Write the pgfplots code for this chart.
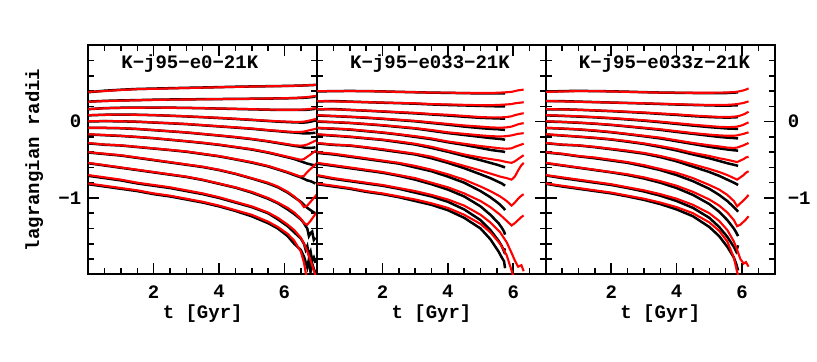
\documentclass[border=0pt]{standalone}
\usepackage{fontspec}
\setmainfont{Liberation Mono}
\usepackage{pgfplots}
\usepackage{pgfplotstable}
\pgfplotsset{compat=1.18}

% log10 of the lagrangian radii
% panel 1: K-j95-e0-21K
\pgfplotstableread{
t     L1    L2    L3    L4     L5     L6     L7     L8    L9    L10   L11   L12
0     0.39  0.26  0.165 0.085  0.005  -0.08  -0.165 -0.28 -0.40 -0.54 -0.70 -0.81
0.5   0.40  0.27  0.175 0.09   0.008  -0.08  -0.175 -0.30 -0.42 -0.57 -0.73 -0.84
1     0.415 0.275 0.18  0.092  0.005  -0.085 -0.185 -0.31 -0.44 -0.60 -0.76 -0.87
1.5   0.425 0.28  0.182 0.09   0.0    -0.095 -0.20  -0.33 -0.47 -0.63 -0.80 -0.90
2     0.43  0.285 0.183 0.085  -0.01  -0.11  -0.215 -0.35 -0.50 -0.66 -0.83 -0.94
2.5   0.435 0.288 0.182 0.078  -0.02  -0.125 -0.235 -0.37 -0.53 -0.69 -0.86 -0.97
3     0.44  0.29  0.18  0.07   -0.03  -0.14  -0.255 -0.39 -0.56 -0.72 -0.90 -1.01
3.5   0.445 0.292 0.176 0.06   -0.045 -0.16  -0.275 -0.42 -0.59 -0.76 -0.94 -1.05
4     0.45  0.295 0.172 0.05   -0.06  -0.18  -0.30  -0.45 -0.63 -0.81 -0.99 -1.10
4.5   0.455 0.297 0.168 0.038  -0.075 -0.20  -0.33  -0.49 -0.68 -0.86 -1.05 -1.16
5     0.46  0.30  0.163 0.025  -0.09  -0.225 -0.36  -0.53 -0.74 -0.92 -1.11 -1.22
5.5   0.463 0.303 0.158 0.012  -0.11  -0.255 -0.40  -0.58 -0.80 -1.00 -1.19 -1.31
5.8   0.465 0.305 0.156 0.005  -0.12  -0.275 -0.43  -0.62 -0.85 -1.06 -1.26 -1.38
6.1   0.467 0.307 0.155 0.0    -0.13  -0.295 -0.46  -0.66 -0.92 -1.13 -1.35 -1.47
6.3   0.47  0.31  0.155 -0.003 -0.135 -0.31  -0.48  -0.69 -0.98 -1.19 -1.42 -1.56
6.5   0.472 0.315 0.157 -0.003 -0.135 -0.315 -0.50  -0.72 -1.06 -1.27 -1.52 -1.70
6.6   0.474 0.318 0.16  0.0    -0.13  -0.31  -0.49  -0.71 -1.12 -1.33 -1.60 -1.85
6.7   0.476 0.322 0.163 0.008  -0.12  -0.30  -0.46  -0.66 -1.10 -1.35 -1.70 -2.10
6.8   0.478 0.327 0.168 0.018  -0.11  -0.28  -0.43  -0.62 -1.05 -1.30 -1.82 nan
6.9   0.48  0.333 0.175 0.028  -0.10  -0.26  -0.40  -0.58 -1.00 -1.24 -1.95 nan
7.0   0.485 0.34  0.182 0.04   -0.09  -0.24  -0.37  -0.54 -0.95 -1.18 -2.08 nan
}\pOneR
\pgfplotstableread{
t     L1    L2    L3    L4     L5     L6     L7     L8     L9     L10    L11   L12
0     0.385 0.262 0.163 0.082  0.003  -0.083 -0.168 -0.285 -0.405 -0.545 -0.71 -0.82
0.5   0.405 0.272 0.177 0.09   0.006  -0.083 -0.178 -0.303 -0.425 -0.575 -0.74 -0.85
1     0.418 0.278 0.182 0.093  0.004  -0.087 -0.188 -0.313 -0.445 -0.605 -0.77 -0.88
1.5   0.428 0.282 0.184 0.09   -0.002 -0.097 -0.202 -0.333 -0.475 -0.635 -0.81 -0.91
2     0.433 0.287 0.185 0.085  -0.012 -0.112 -0.218 -0.353 -0.505 -0.665 -0.84 -0.95
2.5   0.438 0.29  0.183 0.077  -0.022 -0.127 -0.238 -0.373 -0.535 -0.695 -0.87 -0.98
3     0.443 0.292 0.18  0.068  -0.033 -0.143 -0.258 -0.395 -0.565 -0.725 -0.91 -1.02
3.5   0.447 0.294 0.176 0.058  -0.048 -0.163 -0.28  -0.425 -0.595 -0.765 -0.95 -1.06
4     0.452 0.296 0.171 0.047  -0.063 -0.183 -0.305 -0.455 -0.635 -0.815 -1.00 -1.11
4.5   0.457 0.298 0.166 0.035  -0.078 -0.205 -0.335 -0.495 -0.685 -0.865 -1.06 -1.17
5     0.461 0.30  0.161 0.022  -0.094 -0.23  -0.366 -0.537 -0.745 -0.93  -1.12 -1.24
5.5   0.464 0.302 0.156 0.008  -0.114 -0.26  -0.407 -0.587 -0.81  -1.01  -1.20 -1.33
5.8   0.466 0.304 0.154 0.0    -0.125 -0.282 -0.437 -0.627 -0.86  -1.07  -1.28 -1.40
6.1   0.468 0.306 0.153 -0.006 -0.137 -0.303 -0.468 -0.668 -0.93  -1.15  -1.37 -1.50
6.3   0.47  0.308 0.153 -0.01  -0.143 -0.318 -0.49  -0.70  -0.99  -1.21  -1.45 -1.60
6.5   0.472 0.311 0.153 -0.012 -0.15  -0.33  -0.52  -0.73  -1.05  -1.28  -1.53 -1.68
6.6   0.474 0.313 0.154 -0.012 -0.155 -0.34  -0.535 -0.75  -1.09  -1.33  -1.60 -1.77
6.65  nan   nan   nan   nan    nan    nan    nan    nan    nan    -1.37  -1.68 -1.84
6.7   0.476 0.316 0.156 -0.008 -0.155 -0.345 -0.55  -0.77  -1.13  -1.40  -1.63 -1.91
6.75  nan   nan   nan   nan    nan    nan    nan    nan    nan    -1.50  -1.75 -1.80
6.8   0.478 0.32  0.16  0.0    -0.152 -0.345 -0.56  -0.78  -1.16  -1.46  -1.70 -1.97
6.85  nan   nan   nan   nan    nan    nan    nan    nan    nan    -1.44  -1.82 -1.86
6.9   0.48  0.325 0.165 0.01   -0.148 -0.34  -0.57  -0.80  -1.19  -1.55  -1.78 -1.93
6.95  0.482 0.33  0.17  0.02   -0.145 -0.335 -0.575 -0.81  -1.20  -1.52  -1.85 -1.98
}\pOneB

% panel 2: K-j95-e033-21K
\pgfplotstableread{
t     L1    L2    L3    L4     L5     L6     L7     L8    L9    L10   L11   L12
0     0.40  0.27  0.165 0.085  0.005  -0.08  -0.165 -0.28 -0.40 -0.54 -0.70 -0.81
0.5   0.40  0.265 0.16  0.075  -0.005 -0.09  -0.18  -0.30 -0.42 -0.57 -0.74 -0.84
1     0.40  0.26  0.155 0.065  -0.015 -0.10  -0.195 -0.31 -0.45 -0.60 -0.77 -0.87
1.5   0.40  0.255 0.145 0.055  -0.03  -0.12  -0.215 -0.335 -0.48 -0.63 -0.80 -0.91
2     0.395 0.25  0.135 0.04   -0.045 -0.14  -0.235 -0.36 -0.51 -0.66 -0.83 -0.94
2.5   0.39  0.245 0.125 0.025  -0.065 -0.165 -0.26  -0.39 -0.54 -0.70 -0.87 -0.98
3     0.385 0.24  0.115 0.01   -0.085 -0.19  -0.29  -0.42 -0.58 -0.74 -0.91 -1.02
3.5   0.38  0.23  0.10  -0.01  -0.11  -0.22  -0.33  -0.46 -0.63 -0.80 -0.96 -1.07
4     0.38  0.225 0.09  -0.03  -0.14  -0.26  -0.38  -0.52 -0.69 -0.86 -1.02 -1.13
4.5   0.375 0.22  0.075 -0.05  -0.16  -0.29  -0.43  -0.58 -0.76 -0.94 -1.10 -1.22
5     0.375 0.215 0.06  -0.065 -0.18  -0.32  -0.47  -0.64 -0.85 -1.04 -1.22 -1.34
5.3   0.375 0.215 0.055 -0.075 -0.19  -0.335 -0.49  -0.68 -0.91 -1.12 -1.32 -1.45
5.6   0.38  0.22  0.055 -0.08  -0.195 -0.35  -0.51  -0.72 -0.98 -1.22 -1.45 -1.60
5.8   0.385 0.225 0.06  -0.075 -0.19  -0.355 -0.53  -0.74 -1.04 -1.30 -1.58 -1.75
5.95  0.39  0.23  0.07  -0.065 -0.18  -0.35  -0.54  -0.76 -1.10 -1.36 -1.72 -1.95
6.05  0.40  0.24  0.085 -0.05  -0.17  -0.33  -0.52  -0.72 -1.06 -1.33 -1.82 -2.10
6.15  0.41  0.245 0.095 -0.035 -0.16  -0.315 -0.49  -0.64 -1.01 -1.29 -1.90 nan
6.25  0.415 0.25  0.105 -0.025 -0.155 -0.30  -0.46  -0.57 -0.97 -1.25 -1.88 nan
6.32  0.42  0.255 0.11  -0.02  -0.15  -0.29  -0.44  -0.54 -0.95 -1.23 -1.96 nan
}\pTwoR
\pgfplotstableread{
t     L1    L2    L3    L4     L5     L6     L7     L8     L9    L10   L11   L12
0     0.395 0.265 0.16  0.08   0.0    -0.085 -0.17  -0.285 -0.41 -0.55 -0.71 -0.82
0.5   0.40  0.27  0.165 0.072  -0.008 -0.093 -0.185 -0.305 -0.43 -0.58 -0.75 -0.85
1     0.402 0.262 0.153 0.062  -0.018 -0.105 -0.20  -0.315 -0.46 -0.61 -0.78 -0.88
1.5   0.40  0.255 0.143 0.05   -0.033 -0.125 -0.22  -0.34  -0.49 -0.64 -0.81 -0.92
2     0.396 0.248 0.132 0.036  -0.05  -0.145 -0.24  -0.37  -0.52 -0.67 -0.84 -0.95
2.5   0.39  0.242 0.12  0.02   -0.07  -0.17  -0.27  -0.40  -0.55 -0.71 -0.88 -0.99
3     0.385 0.235 0.108 0.004  -0.09  -0.20  -0.30  -0.43  -0.60 -0.76 -0.93 -1.04
3.5   0.38  0.225 0.094 -0.018 -0.12  -0.23  -0.345 -0.48  -0.65 -0.82 -0.98 -1.09
4     0.377 0.218 0.08  -0.04  -0.15  -0.27  -0.395 -0.54  -0.72 -0.89 -1.05 -1.16
4.5   0.373 0.212 0.064 -0.065 -0.175 -0.305 -0.45  -0.61  -0.80 -0.98 -1.15 -1.26
5     0.37  0.206 0.05  -0.085 -0.20  -0.345 -0.505 -0.69  -0.91 -1.11 -1.29 -1.40
5.3   0.37  0.203 0.045 -0.095 -0.215 -0.37  -0.54  -0.74  -0.99 -1.22 -1.42 -1.54
5.55  0.37  0.20  0.042 -0.10  -0.225 -0.385 -0.57  -0.79  -1.07 -1.33 -1.56 -1.70
5.65  0.37  0.20  0.04  -0.105 -0.23  -0.39  -0.585 -0.81  -1.11 -1.39 -1.63 -1.78
5.72  0.37  0.20  0.04  -0.107 -0.235 -0.395 -0.595 -0.83  -1.14 -1.44 -1.70 -1.83
5.75  0.372 0.20  0.04  -0.11  -0.24  -0.40  -0.60  -0.84  -1.16 -1.48 -1.66 -1.92
}\pTwoB

% panel 3: K-j95-e033z-21K
\pgfplotstableread{
t     L1    L2    L3    L4     L5     L6     L7     L8    L9    L10   L11   L12
0     0.39  0.27  0.165 0.085  0.005  -0.08  -0.165 -0.28 -0.40 -0.54 -0.70 -0.81
0.5   0.395 0.265 0.16  0.078  -0.003 -0.09  -0.18  -0.30 -0.42 -0.57 -0.73 -0.84
1     0.40  0.26  0.155 0.07   -0.012 -0.10  -0.195 -0.31 -0.45 -0.60 -0.76 -0.87
1.5   0.40  0.255 0.148 0.06   -0.025 -0.115 -0.21  -0.33 -0.47 -0.63 -0.79 -0.90
2     0.395 0.25  0.14  0.048  -0.04  -0.135 -0.23  -0.355 -0.50 -0.66 -0.82 -0.93
2.5   0.39  0.245 0.13  0.033  -0.06  -0.16  -0.255 -0.38 -0.53 -0.69 -0.86 -0.97
3     0.385 0.24  0.12  0.018  -0.08  -0.185 -0.285 -0.41 -0.57 -0.73 -0.90 -1.01
3.5   0.38  0.235 0.107 0.0    -0.10  -0.21  -0.32  -0.45 -0.62 -0.78 -0.95 -1.06
4     0.38  0.228 0.095 -0.02  -0.125 -0.245 -0.36  -0.50 -0.67 -0.84 -1.01 -1.12
4.5   0.378 0.222 0.08  -0.04  -0.15  -0.28  -0.41  -0.56 -0.74 -0.92 -1.09 -1.20
5     0.378 0.218 0.068 -0.058 -0.17  -0.31  -0.45  -0.62 -0.83 -1.02 -1.20 -1.32
5.3   0.38  0.218 0.062 -0.068 -0.18  -0.325 -0.48  -0.66 -0.89 -1.10 -1.30 -1.43
5.55  0.382 0.22  0.06  -0.072 -0.185 -0.34  -0.50  -0.70 -0.96 -1.19 -1.42 -1.57
5.75  0.387 0.225 0.065 -0.07  -0.185 -0.345 -0.52  -0.74 -1.04 -1.29 -1.57 -1.78
5.85  0.392 0.23  0.07  -0.065 -0.18  -0.34  -0.53  -0.76 -1.11 -1.37 -1.68 -1.97
5.95  0.40  0.237 0.08  -0.055 -0.17  -0.325 -0.51  -0.73 -1.07 -1.35 -1.80 -2.10
6.05  0.41  0.245 0.095 -0.04  -0.16  -0.31  -0.49  -0.70 -1.03 -1.31 -1.86 nan
6.12  0.42  0.255 0.11  -0.025 -0.15  -0.295 -0.47  -0.67 -1.00 -1.28 -1.84 nan
6.2   0.435 0.265 0.13  -0.01  -0.14  -0.28  -0.46  -0.65 -0.96 -1.24 -1.90 nan
}\pThreeR
\pgfplotstableread{
t     L1    L2    L3    L4     L5     L6     L7     L8     L9     L10    L11   L12
0     0.392 0.268 0.162 0.082  0.002  -0.083 -0.168 -0.283 -0.405 -0.545 -0.705 -0.815
0.5   0.40  0.268 0.162 0.075  -0.005 -0.092 -0.183 -0.303 -0.425 -0.575 -0.74 -0.85
1     0.403 0.262 0.155 0.066  -0.015 -0.103 -0.198 -0.313 -0.455 -0.605 -0.77 -0.88
1.5   0.40  0.256 0.146 0.056  -0.028 -0.12  -0.215 -0.335 -0.48  -0.635 -0.80 -0.91
2     0.397 0.25  0.137 0.043  -0.044 -0.14  -0.235 -0.362 -0.51  -0.665 -0.83 -0.94
2.5   0.392 0.244 0.126 0.028  -0.064 -0.165 -0.263 -0.39  -0.54  -0.70  -0.87 -0.98
3     0.386 0.238 0.115 0.012  -0.085 -0.192 -0.293 -0.42  -0.585 -0.745 -0.915 -1.025
3.5   0.381 0.231 0.101 -0.008 -0.108 -0.22  -0.333 -0.465 -0.635 -0.80  -0.97 -1.08
4     0.378 0.224 0.088 -0.03  -0.135 -0.257 -0.378 -0.52  -0.70  -0.87  -1.04 -1.15
4.5   0.375 0.218 0.072 -0.052 -0.16  -0.293 -0.43  -0.59  -0.78  -0.96  -1.13 -1.24
5     0.373 0.213 0.06  -0.072 -0.185 -0.33  -0.48  -0.66  -0.88  -1.08  -1.26 -1.38
5.3   0.373 0.21  0.055 -0.082 -0.20  -0.35  -0.515 -0.71  -0.96  -1.18  -1.38 -1.50
5.55  0.375 0.21  0.053 -0.09  -0.21  -0.365 -0.545 -0.76  -1.04  -1.29  -1.51 -1.64
5.75  0.38  0.212 0.055 -0.093 -0.215 -0.375 -0.565 -0.80  -1.12  -1.40  -1.64 -1.78
5.82  0.382 0.214 0.057 -0.094 -0.218 -0.378 -0.572 -0.815 -1.15  -1.45  -1.70 -1.86
5.88  0.385 0.215 0.06  -0.095 -0.22  -0.38  -0.58  -0.83  -1.18  -1.50  -1.62 -1.95
}\pThreeB

\pgfplotsset{
  lagr/.style={
    scale only axis, width=114.4pt, height=114.5pt,
    anchor=south west,
    xmin=0, xmax=7, ymin=-2, ymax=1,
    font=\fontsize{9.5}{11}\selectfont\bfseries,
    xtick={2,4,6}, xticklabels={2,4,6},
    minor xtick={0.5,1,1.5,2.5,3,3.5,4.5,5,5.5,6.5},
    ytick={-1,0},
    minor ytick={-1.8,-1.6,-1.4,-1.2,-0.8,-0.6,-0.4,-0.2,0.2,0.4,0.6,0.8},
    tick align=inside, xtick pos=both, ytick pos=both,
    major tick length=5.5pt, minor tick length=3pt,
    axis line style={line width=0.9pt},
    every tick/.style={black, line width=0.8pt},
    xticklabel style={yshift=-2pt},
    xlabel={t [Gyr]},
    xlabel style={at={(axis description cs:0.5,-0.17)}, anchor=center},
  },
  blk/.style={black, line width=1.25pt},
  rd/.style={red, line width=1.05pt},
}

\begin{document}
\begin{tikzpicture}
\useasboundingbox (0,0) rectangle (408.5pt,181pt);

\begin{axis}[lagr, at={(44.15pt,43.85pt)},
    yticklabels={−1,0},
    ylabel={lagrangian radii},
    ylabel style={at={(axis description cs:-0.236,0.5)}, anchor=center}]
\pgfplotsinvokeforeach{1,...,12}{\addplot[blk] table[x=t, y=L#1] {\pOneB};}
\pgfplotsinvokeforeach{1,...,12}{\addplot[rd] table[x=t, y=L#1] {\pOneR};}
\node[anchor=base west, inner sep=0pt] at (axis cs:1.0,0.70) {K−j95−e0−21K};
\end{axis}

\begin{axis}[lagr, at={(158.55pt,43.85pt)}, yticklabels={}]
\pgfplotsinvokeforeach{1,...,12}{\addplot[blk] table[x=t, y=L#1] {\pTwoB};}
\pgfplotsinvokeforeach{1,...,12}{\addplot[rd] table[x=t, y=L#1] {\pTwoR};}
\node[anchor=base west, inner sep=0pt] at (axis cs:1.0,0.70) {K−j95−e033−21K};
\end{axis}

\begin{axis}[lagr, at={(272.95pt,43.85pt)},
    yticklabel pos=right, yticklabels={−1,0},
    yticklabel style={xshift=3pt}]
\pgfplotsinvokeforeach{1,...,12}{\addplot[blk] table[x=t, y=L#1] {\pThreeB};}
\pgfplotsinvokeforeach{1,...,12}{\addplot[rd] table[x=t, y=L#1] {\pThreeR};}
\node[anchor=base west, inner sep=0pt] at (axis cs:1.0,0.70) {K−j95−e033z−21K};
\end{axis}
\end{tikzpicture}
\end{document}
